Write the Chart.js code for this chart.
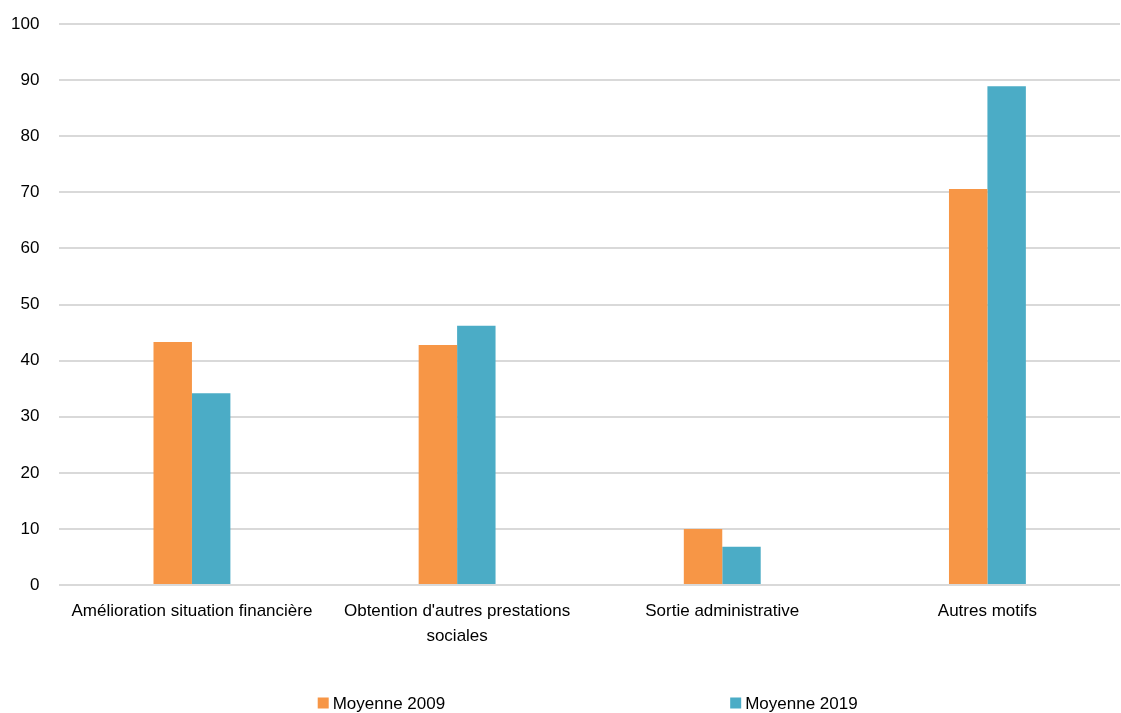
<!DOCTYPE html>
<html>
<head>
<meta charset="utf-8">
<script src="https://cdn.jsdelivr.net/npm/chart.js@4"></script>
<style>
html,body{margin:0;padding:0;background:#fff;}
#wrap{width:1121px;height:713px;position:relative;}
</style>
</head>
<body>
<div id="wrap"><canvas id="c" width="1121" height="713"></canvas></div>
<script>
const categories = [
  "Amélioration situation financière",
  ["Obtention d'autres prestations", "sociales"],
  "Sortie administrative",
  "Autres motifs"
];
const seriesNames = ["Moyenne 2009", "Moyenne 2019"];
const values2009 = [43.3, 42.8, 10.0, 70.6];
const values2019 = [34.2, 46.2, 6.8, 88.9];
const yTicks = [0, 10, 20, 30, 40, 50, 60, 70, 80, 90, 100];
const colors = ["#F79646", "#4BACC6"];

const FONT = "'Liberation Sans', Arial, sans-serif";
const FSIZE = 17;

const spacedLegend = {
  id: 'spacedLegend',
  afterDraw(chart) {
    const ctx = chart.ctx;
    const ca = chart.chartArea;
    ctx.save();
    ctx.font = FSIZE + "px " + FONT;
    ctx.textBaseline = 'middle';
    ctx.textAlign = 'left';
    const box = 11, gapBoxText = 4, gapItems = 285;
    const items = chart.data.datasets.map(ds => ({
      text: ds.label, color: ds.backgroundColor,
      w: box + gapBoxText + ctx.measureText(ds.label).width
    }));
    const total = items.reduce((s, it) => s + it.w, 0) + gapItems * (items.length - 1);
    let x = (ca.left + ca.right) / 2 - total / 2 - 2;
    const y = 703;
    items.forEach(it => {
      ctx.fillStyle = it.color;
      ctx.fillRect(x, y - box / 2, box, box);
      ctx.fillStyle = '#000';
      ctx.fillText(it.text, x + box + gapBoxText, y + 1);
      x += it.w + gapItems;
    });
    ctx.restore();
  }
};

new Chart(document.getElementById('c'), {
  type: 'bar',
  data: {
    labels: categories,
    datasets: [
      { label: seriesNames[0], data: values2009, backgroundColor: colors[0] },
      { label: seriesNames[1], data: values2019, backgroundColor: colors[1] }
    ]
  },
  options: {
    responsive: false,
    animation: false,
    devicePixelRatio: 1,
    layout: { padding: { top: 24, right: 1, bottom: 50, left: -9 } },
    categoryPercentage: 0.29,
    barPercentage: 1.0,
    plugins: {
      legend: { display: false },
      tooltip: { enabled: false }
    },
    scales: {
      x: {
        grid: { display: false, drawTicks: false },
        border: { display: false },
        ticks: {
          color: '#000',
          font: { family: FONT, size: FSIZE, lineHeight: 1.47 },
          padding: 14,
          maxRotation: 0,
          autoSkip: false
        }
      },
      y: {
        min: 0, max: 100,
        afterBuildTicks(axis) { axis.ticks = yTicks.map(v => ({ value: v })); },
        afterFit(axis) { axis.paddingTop = 0; axis.paddingBottom = 0; },
        grid: { color: '#D9D9D9', lineWidth: 2, drawTicks: false },
        border: { display: false },
        ticks: {
          color: '#000',
          font: { family: FONT, size: FSIZE },
          padding: 20
        }
      }
    }
  },
  plugins: [spacedLegend]
});
</script>
</body>
</html>
